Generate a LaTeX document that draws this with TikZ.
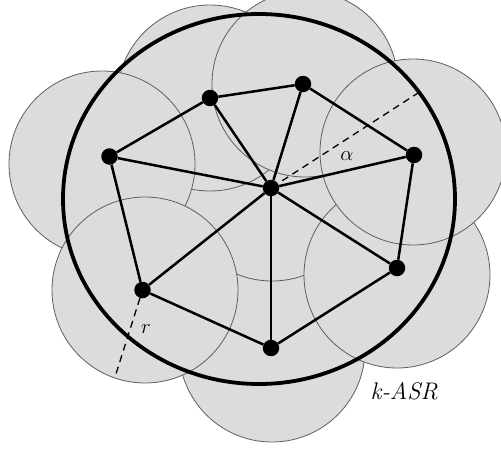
\documentclass[tikz,border=0pt]{standalone}
\definecolor{diskgray}{RGB}{220,220,220}
\definecolor{diskline}{RGB}{95,95,95}
\begin{document}
\begin{tikzpicture}[x=1pt,y=-1pt,
  disk/.style={fill=diskgray, draw=diskline, line width=0.8pt},
  edge/.style={line width=2.5pt},
  vertex/.style={circle, fill=black, inner sep=0pt, minimum size=16.5pt},
  dashline/.style={line width=1.3pt, dash pattern=on 7pt off 5pt},
  lbl/.style={inner sep=0pt, font=\fontsize{20}{22}\selectfont}]
\useasboundingbox (0,0) rectangle (501,453);
% disk centres
\coordinate (dE) at (272,349);
\coordinate (dO) at (272,188);
\coordinate (dA) at (210,98);
\coordinate (dB) at (305,84);
\coordinate (dG) at (102,164);
\coordinate (dF) at (145,290);
\coordinate (dD) at (397,275);
\coordinate (dC) at (413,152);
\foreach \d in {dE,dO,dA,dB,dG,dF,dD,dC}
  \draw[disk] (\d) circle [radius=93];
% k-ASR region
\draw[line width=3.8pt] (259,199) ellipse [x radius=196, y radius=185];
% vertices
\node[vertex] (O) at (271,188) {};
\node[vertex] (A) at (210,98) {};
\node[vertex] (B) at (303,84) {};
\node[vertex] (C) at (414,155) {};
\node[vertex] (D) at (397,268) {};
\node[vertex] (E) at (271,348) {};
\node[vertex] (F) at (142.5,290) {};
\node[vertex] (G) at (109.5,156.5) {};
% edges
\draw[edge] (A) -- (B);
\draw[edge] (B) -- (C);
\draw[edge] (C) -- (D);
\draw[edge] (D) -- (E);
\draw[edge] (E) -- (F);
\draw[edge] (F) -- (G);
\draw[edge] (G) -- (A);
\foreach \v in {A,B,C,D,E,F,G}
  \draw[edge] (O) -- (\v);
% dashed radii
\coordinate (aEnd) at (418,93);
\coordinate (rEnd) at (115,377);
\draw[dashline, dash phase=7pt] (O) -- (aEnd);
\draw[dashline] (F) -- (rEnd);
% labels
\node[lbl] (alpha) at (347,156) {$\alpha$};
\node[lbl] (rlab) at (146,329) {$r$};
\node[inner sep=0pt, anchor=base west, font=\fontsize{24}{28}\selectfont] (kasr) at (370.5,399) {\textit{k-ASR}};
\end{tikzpicture}
\end{document}
